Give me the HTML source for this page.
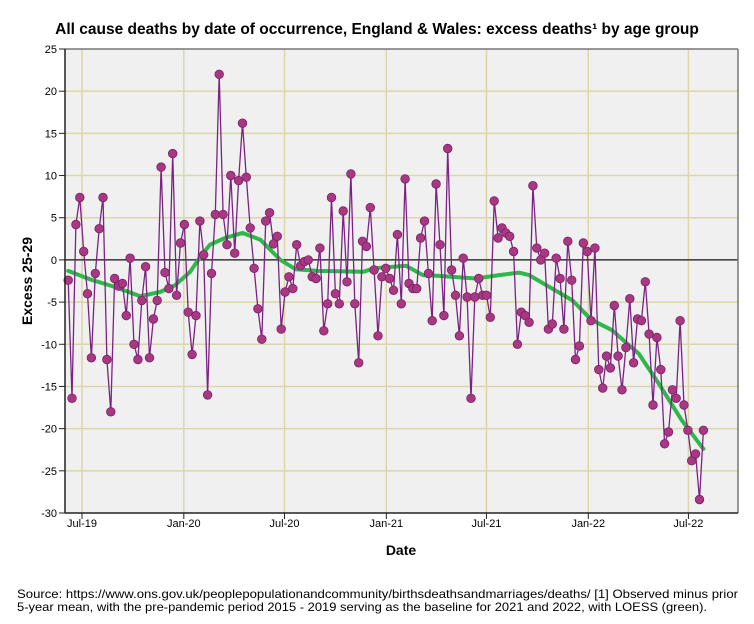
<!DOCTYPE html>
<html><head><meta charset="utf-8"><style>
html,body{margin:0;padding:0;background:#fff;}
svg{display:block;font-family:"Liberation Sans",Arial,sans-serif;}
</style></head><body>
<svg id="chart" width="754" height="624" viewBox="0 0 754 624">
<text x="377" y="34" text-anchor="middle" font-size="15.5" font-weight="bold">All cause deaths by date of occurrence, England &amp; Wales: excess deaths¹ by age group</text>
<rect x="65" y="49" width="673" height="464" fill="#f0f0f0"/>
<g id="grid"></g>
<g id="yaxis"></g>
<g id="xaxis"></g>
<g id="loess"></g>
<g id="series"></g>
<line x1="65" y1="49" x2="738" y2="49" stroke="#777" stroke-width="1.5"/>
<line x1="738" y1="49" x2="738" y2="513" stroke="#777" stroke-width="1.5"/>
<line x1="65" y1="49" x2="65" y2="513" stroke="#222" stroke-width="1.5"/>
<line x1="65" y1="513" x2="738" y2="513" stroke="#222" stroke-width="1.5"/>
<text x="32" y="281" transform="rotate(-90 32 281)" text-anchor="middle" font-size="14" font-weight="bold">Excess 25-29</text>
<text x="401" y="555" text-anchor="middle" font-size="14" font-weight="bold">Date</text>
<text x="17" y="598" font-size="12" textLength="721" lengthAdjust="spacingAndGlyphs">Source: https://www.ons.gov.uk/peoplepopulationandcommunity/birthsdeathsandmarriages/deaths/  [1] Observed minus prior</text>
<text x="17" y="611" font-size="12" textLength="690" lengthAdjust="spacingAndGlyphs">5-year mean, with the pre-pandemic period 2015 - 2019 serving as the baseline for 2021 and 2022, with LOESS (green).</text>
</svg>
<script>
const yTicks = [25,20,15,10,5,0,-5,-10,-15,-20,-25,-30];
const xTickDates = ["2019-07-01","2020-01-01","2020-07-01","2021-01-01","2021-07-01","2022-01-01","2022-07-01"];
const xTickLabels = ["Jul-19","Jan-20","Jul-20","Jan-21","Jul-21","Jan-22","Jul-22"];
const startDate = "2019-06-06";
const excess = [-2.4,-16.4,4.2,7.4,1.0,-4.0,-11.6,-1.6,3.7,7.4,-11.8,-18.0,-2.2,-3.1,-2.8,-6.6,0.2,-10.0,-11.8,-4.8,-0.8,-11.6,-7.0,-4.8,11.0,-1.5,-3.4,12.6,-4.2,2.0,4.2,-6.2,-11.2,-6.6,4.6,0.6,-16.0,-1.6,5.4,22.0,5.4,1.8,10.0,0.8,9.4,16.2,9.8,3.8,-1.0,-5.8,-9.4,4.6,5.6,1.9,2.8,-8.2,-3.8,-2.0,-3.4,1.8,-0.7,-0.2,0.0,-2.0,-2.2,1.4,-8.4,-5.2,7.4,-4.0,-5.2,5.8,-2.6,10.2,-5.2,-12.2,2.2,1.6,6.2,-1.2,-9.0,-2.0,-1.0,-2.2,-3.6,3.0,-5.2,9.6,-2.8,-3.4,-3.4,2.6,4.6,-1.6,-7.2,9.0,1.8,-6.6,13.2,-1.2,-4.2,-9.0,0.2,-4.4,-16.4,-4.4,-2.2,-4.2,-4.2,-6.8,7.0,2.6,3.8,3.2,2.8,1.0,-10.0,-6.2,-6.6,-7.4,8.8,1.4,0.0,0.8,-8.2,-7.6,0.2,-2.2,-8.2,2.2,-2.4,-11.8,-10.2,2.0,1.0,-7.2,1.4,-13.0,-15.2,-11.4,-12.8,-5.4,-11.4,-15.4,-10.4,-4.6,-12.2,-7.0,-7.2,-2.6,-8.8,-17.2,-9.2,-13.0,-21.8,-20.4,-15.4,-16.4,-7.2,-17.2,-20.2,-23.8,-23.0,-28.4,-20.2];
const loessWeek = [0,5.6,12,18.6,23.7,27.6,31.5,34,36.6,40.5,45,49.6,54.8,58.7,64.4,76.3,78.9,87.2,91.6,95.7,105.3,111.3,116.4,119,124.2,130.2,135.1,140.3,147.3,152.4,158.4,164];
const loessValue = [-1.3,-2.3,-3.2,-4.3,-3.8,-3.0,-1.4,0.3,1.8,2.6,3.2,2.4,0,-1.1,-1.3,-1.4,-1.0,-0.7,-1.8,-1.9,-2.2,-1.8,-1.5,-1.8,-3.2,-4.8,-7.1,-8.3,-11.1,-14.6,-19,-22.4];

const NS = "http://www.w3.org/2000/svg";
const X0 = 82, PXDAY = 0.5533, ORIGIN = Date.UTC(2019,6,1);
const Y_TOP = 49, Y_BOT = 513, VMAX = 25, VMIN = -30;
function dayOf(s){const p=s.split("-");return (Date.UTC(+p[0],+p[1]-1,+p[2])-ORIGIN)/86400000;}
function xScale(days){return X0 + days*PXDAY;}
function yScale(v){return Y_TOP + (VMAX - v)/(VMAX - VMIN)*(Y_BOT - Y_TOP);}
const startDay = dayOf(startDate);
function weekX(i){return xScale(startDay + 7*i);}
function mk(tag, attrs, parent){const e=document.createElementNS(NS,tag);for(const k in attrs)e.setAttribute(k,attrs[k]);parent.appendChild(e);return e;}

const grid=document.getElementById('grid'), ya=document.getElementById('yaxis'), xa=document.getElementById('xaxis');
yTicks.forEach(v=>{
  const y=yScale(v);
  if(v!==VMAX && v!==VMIN && v!==0){
    const g=mk('line',{x1:65,x2:738,y1:y,y2:y,stroke:'#dcd6a8','stroke-width':1.5},grid);
    
    
  }
  const t=mk('line',{x1:59,x2:65,y1:y,y2:y,stroke:'#222','stroke-width':1},ya);
  
  
  const l=mk('text',{x:57,y:y+4,'text-anchor':'end','font-size':11},ya);
  l.textContent=v;
  
  
});
xTickDates.forEach((d,i)=>{
  const x=xScale(dayOf(d));
  const g=mk('line',{x1:x,x2:x,y1:49,y2:513,stroke:'#dcd6a8','stroke-width':1.5},grid);
  
  
  const t=mk('line',{x1:x,x2:x,y1:513,y2:519,stroke:'#222','stroke-width':1},xa);
  
  
  const l=mk('text',{x:x,y:527,'text-anchor':'middle','font-size':11},xa);
  l.textContent=xTickLabels[i];
  
  
});
const zl=mk('line',{x1:65,x2:738,y1:yScale(0),y2:yScale(0),stroke:'#111','stroke-width':1.3},grid);



const lo=document.getElementById('loess');
const lp=mk('polyline',{points:loessWeek.map((w,i)=>weekX(w).toFixed(1)+','+yScale(loessValue[i]).toFixed(1)).join(' '),fill:'none',stroke:'#2fb84a','stroke-width':4,'stroke-linejoin':'round','stroke-linecap':'round'},lo);



const se=document.getElementById('series');
const pl=mk('polyline',{points:excess.map((v,i)=>weekX(i).toFixed(1)+','+yScale(v).toFixed(1)).join(' '),fill:'none',stroke:'#7a2382','stroke-width':1.3},se);


excess.forEach((v,i)=>{
  const c=mk('circle',{cx:weekX(i).toFixed(1),cy:yScale(v).toFixed(1),r:4.3,fill:'#a8387f',stroke:'#7a1f6e','stroke-width':0.8},se);
  
  
});
</script>
</body></html>
